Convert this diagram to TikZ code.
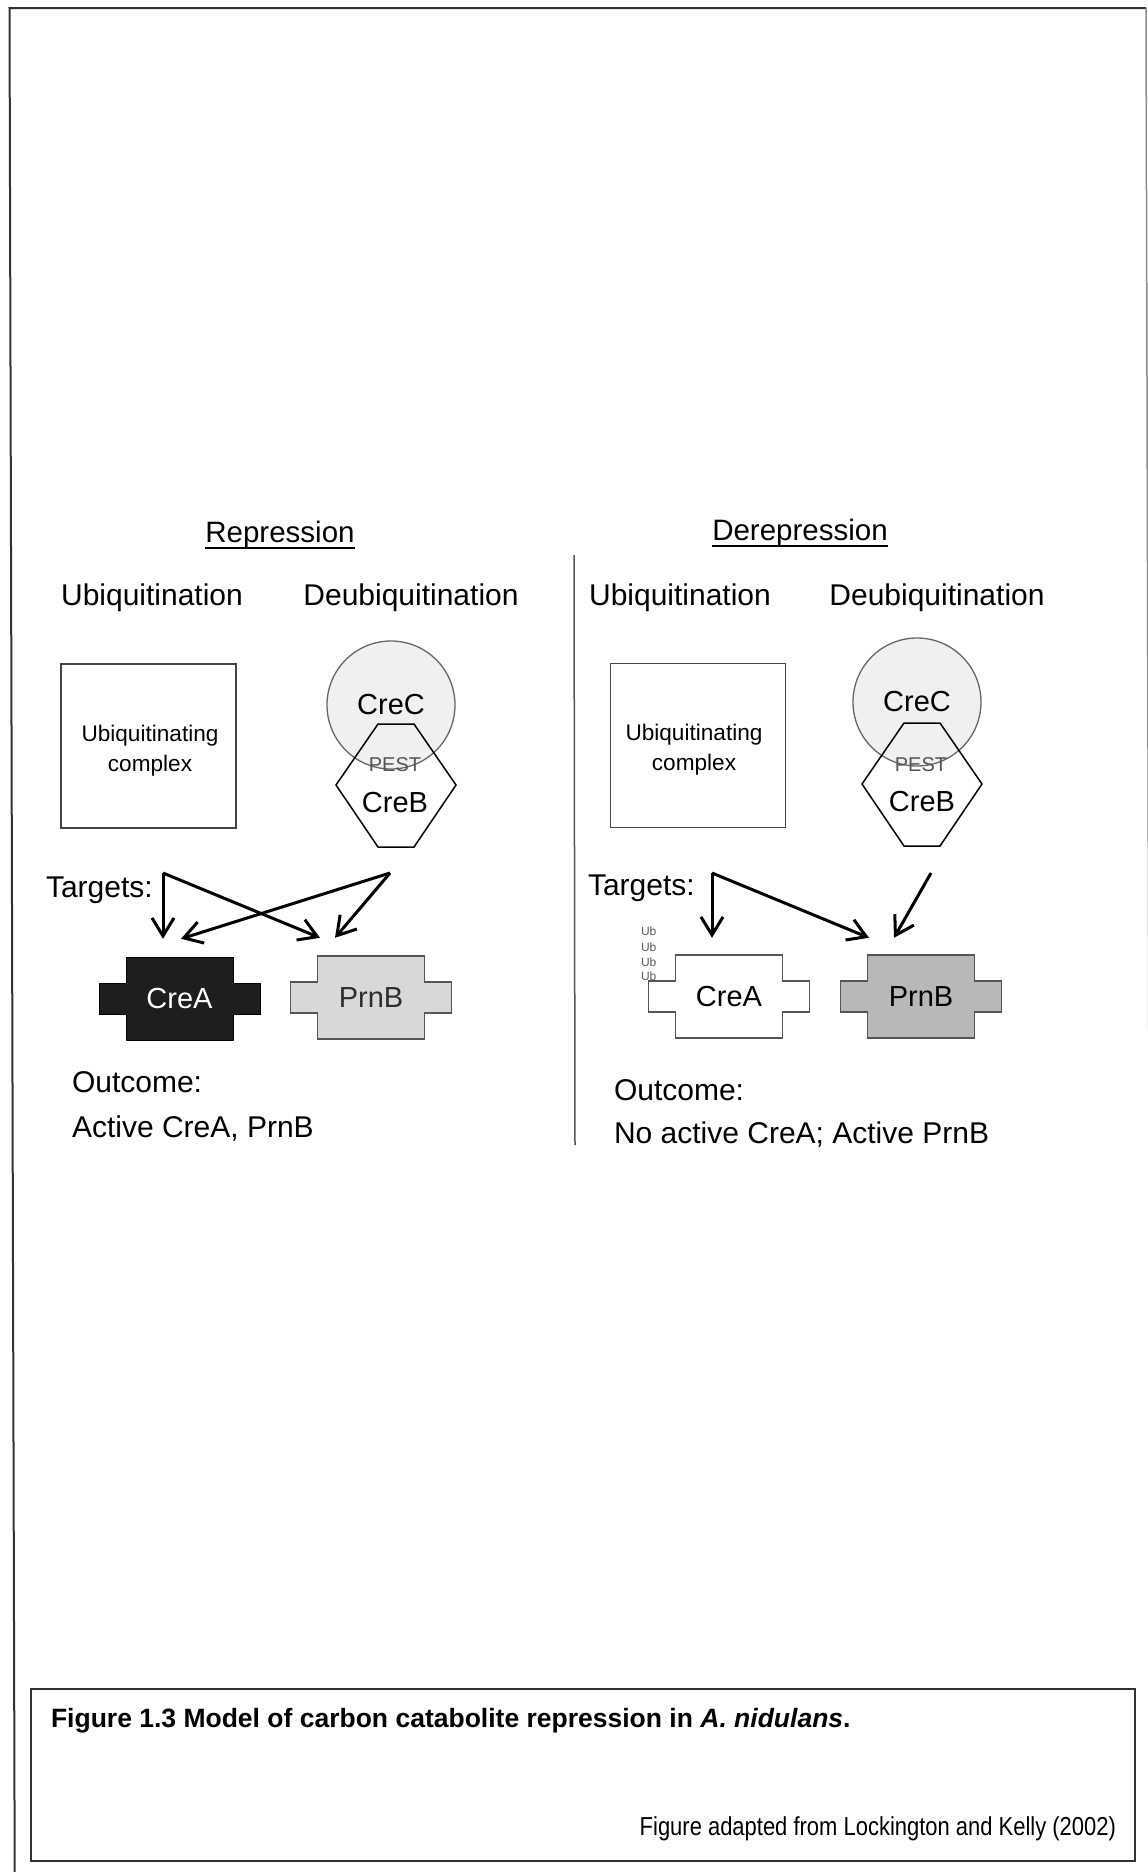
\documentclass[tikz,border=0pt]{standalone}
\usepackage{fontspec}
\setmainfont{Liberation Sans}
\newfontfamily\narrowfont{Liberation Sans}[FakeStretch=0.845]
\usetikzlibrary{arrows.meta,calc}
\definecolor{framegray}{HTML}{333333}
\definecolor{sidegray}{HTML}{8A8A8A}
\definecolor{divgray}{HTML}{555555}
\definecolor{boxgray}{HTML}{444444}
\definecolor{circgray}{HTML}{666666}
\definecolor{circfill}{HTML}{F0F0F0}
\definecolor{pestgray}{HTML}{555555}
\definecolor{ubgray}{HTML}{5A5A5A}
\definecolor{creablack}{HTML}{1E1E1E}
\definecolor{prnblight}{HTML}{D8D8D8}
\definecolor{prnbdark}{HTML}{B8B8B8}
\definecolor{prnbtext}{HTML}{2E2E2E}
\newcommand\protshape[2]{\path[#2,shift={#1}] (-53.5,-41.5) -- (53.5,-41.5) -- (53.5,-15.5) -- (80.5,-15.5) -- (80.5,15.5) -- (53.5,15.5) -- (53.5,41.5) -- (-53.5,41.5) -- (-53.5,15.5) -- (-80.5,15.5) -- (-80.5,-15.5) -- (-53.5,-15.5) -- cycle;}
\newcommand\hexshape[1]{\path[hexline,shift={#1}] (-18,-61) -- (18,-61) -- (60,0) -- (18,62) -- (-18,62) -- (-60,0) -- cycle;}
\begin{document}
\begin{tikzpicture}[x=1pt,y=-1pt,
  txt/.style={inner sep=0pt,outer sep=0pt},
  big/.style={txt,font=\fontsize{30}{36}\selectfont},
  head/.style={txt,font=\fontsize{29.5}{35}\selectfont,anchor=base},
  small/.style={txt,font=\fontsize{22.6}{30}\selectfont,align=center},
  pest/.style={txt,font=\fontsize{20}{24}\selectfont,text=pestgray},
  ub/.style={txt,font=\fontsize{12}{14}\selectfont,text=ubgray,anchor=base west},
  frameline/.style={draw=framegray,line width=2pt},
  ubox/.style={draw=boxgray,line width=1.6pt,minimum width=175pt,minimum height=164pt,inner sep=0pt},
  crec/.style={circle,draw=circgray,fill=circfill,line width=1.3pt,minimum size=128pt,inner sep=0pt,font=\fontsize{29}{35}\selectfont},
  hexline/.style={draw=black,line width=1.5pt},
  prot/.style={minimum width=107pt,minimum height=83pt,inner sep=0pt,font=\fontsize{29}{35}\selectfont},
  arr/.style={line width=3pt,-{Straight Barb[length=18pt,width=22pt]}}
]
\useasboundingbox (0,0) rectangle (1148,1872);
\fill[white] (0,0) rectangle (1148,1872);
\clip (0,0) rectangle (1148,1872);

% outer frame
\draw[frameline] (14.7,1872) -- (9.5,8) -- (1146,8);
\draw[draw=sidegray,line width=1.5pt] (1146,8) -- (1151,1872);
% caption box
\draw[frameline] (31,1689) rectangle (1135,1861);
\node[txt,anchor=base west,font=\fontsize{26.5}{32}\selectfont\bfseries] (cap) at (51,1727) {Figure 1.3 Model of carbon catabolite repression in \textit{A. nidulans}.};
\node[txt,anchor=base east,font=\narrowfont\fontsize{26}{32}\selectfont] (credit) at (1116,1835) {Figure adapted from Lockington and Kelly (2002)};

% divider
\draw[draw=divgray,line width=1.5pt] (574,555) -- (575,1145);

% headings
\node[head] (rep) at (280,542) {Repression};
\draw[line width=1.6pt] ([yshift=-6pt]rep.base west) -- ([yshift=-6pt]rep.base east);
\node[head] (derep) at (800,540) {Derepression};
\draw[line width=1.6pt] ([yshift=-6pt]derep.base west) -- ([yshift=-6pt]derep.base east);

\node[big,anchor=base] (ubL) at (152,605) {Ubiquitination};
\node[big,anchor=base] (dubL) at (411,605) {Deubiquitination};
\node[big,anchor=base] (ubR) at (680,605) {Ubiquitination};
\node[big,anchor=base] (dubR) at (937,605) {Deubiquitination};

% ubiquitinating complexes
\node[ubox] (boxL) at (148.5,746) {};
\node[small] (boxLt) at (150,751) {Ubiquitinating\\complex};
\node[ubox] (boxR) at (698,745.5) {};
\node[small] (boxRt) at (694,750) {Ubiquitinating\\complex};

% CreC / CreB
\node[crec] (crecL) at (391,705) {CreC};
\hexshape{(396,785)}
\node[pest] (pestL) at (395,765) {PEST};
\node[txt,font=\fontsize{29}{35}\selectfont] (crebL) at (395,803) {CreB};

\node[crec] (crecR) at (917,702) {CreC};
\hexshape{(922,784)}
\node[pest] (pestR) at (921,765) {PEST};
\node[txt,font=\fontsize{29}{35}\selectfont] (crebR) at (922,802) {CreB};

% targets labels
\node[big,anchor=base west] (tgL) at (46,897) {Targets:};
\node[big,anchor=base west] (tgR) at (588,895) {Targets:};

% target proteins
\protshape{(179.5,998.5)}{fill=creablack,draw=black,line width=1pt}
\node[prot,text=white] (creaL) at (179.5,998.5) {CreA};
\protshape{(371,997.5)}{fill=prnblight,draw=divgray,line width=1.5pt}
\node[prot,text=prnbtext] (prnbL) at (371,997.5) {PrnB};
\protshape{(729,996.5)}{fill=white,draw=divgray,line width=1.5pt}
\node[prot] (creaR) at (729,996.5) {CreA};
\protshape{(921,996.5)}{fill=prnbdark,draw=divgray,line width=1.5pt}
\node[prot] (prnbR) at (921,996.5) {PrnB};

% Ub tags
\node[ub] (ub1) at (641,935) {Ub};
\node[ub] (ub2) at (641,951) {Ub};
\node[ub] (ub3) at (641,966) {Ub};
\node[ub] (ub4) at (641,980) {Ub};

% arrows, repression
\coordinate (cTL) at (163,873);
\coordinate (cTR) at (390,873);
\draw[arr] (cTL) -- ($(creaL.north)+(-16.5,-18)$);
\draw[arr] (cTL) -- ($(prnbL.north)+(-51,-18)$);
\draw[arr] (cTR) -- ($(creaL.north)+(1.5,-18)$);
\draw[arr] (cTR) -- ($(prnbL.north)+(-36,-18)$);
% arrows, derepression
\coordinate (dTL) at (712,873);
\coordinate (dTR) at (931,873);
\draw[arr] (dTL) -- ($(creaR.north)+(-17,-17)$);
\draw[arr] (dTL) -- ($(prnbR.north)+(-52,-17)$);
\draw[arr] (dTR) -- ($(prnbR.north)+(-27,-17)$);

% outcomes
\node[big,anchor=base west] (outL1) at (72,1092) {Outcome:};
\node[big,anchor=base west] (outL2) at (72,1137) {Active CreA, PrnB};
\node[big,anchor=base west] (outR1) at (614,1100) {Outcome:};
\node[big,anchor=base west] (outR2) at (614,1143) {No active CreA; Active PrnB};
\end{tikzpicture}
\end{document}
